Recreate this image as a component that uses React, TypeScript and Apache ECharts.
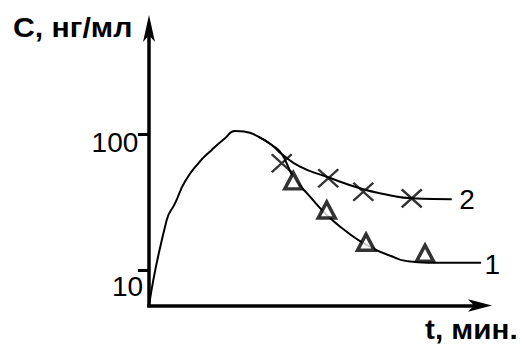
import React, { useEffect, useRef } from 'react';
import * as echarts from 'echarts';

// y-axis tick values (log scale)
const yTickValues = [10, 100];

// curve 1: rise to the peak, then decay (t, C)
const curve1: [number, number][] = [
  [0, 5.47], [6.42, 23.4], [9.43, 31.0], [13.05, 44.9], [17.88, 61.3],
  [22.74, 76.9], [27.56, 93.7], [31.18, 106.1], [34.81, 104.9], [39.63, 96.3],
  [44.49, 83.7], [48.11, 71.8], [52.32, 48.8], [58.38, 34.8], [64.43, 25.5],
  [71.68, 19.17], [78.93, 15.3], [86.77, 12.9], [95.72, 11.5], [105.5, 11.3],
  [120.6, 11.3],
];

// curve 2: branch with slower decay
const curve2: [number, number][] = [
  [39.63, 96.3], [44.49, 83.7], [48.11, 71.8], [54.75, 57.9], [64.43, 48.8],
  [76.5, 40.1], [86.77, 35.8], [95.25, 33.8], [109.75, 33.3],
];

// measured points
const triangles: [number, number][] = [
  [52.32, 45.5], [64.43, 27.7], [78.68, 16.04], [100.07, 13.28],
];
const crosses: [number, number][] = [
  [48.11, 61.3], [65.0, 47.5], [77.7, 37.8], [95.25, 33.8],
];

const yTitle = 'С, нг/мл';
const xTitle = 't, мин.';
const curveLabels = ['1', '2'];

const FONT = '"Liberation Sans", Arial, sans-serif';

export default function App() {
  const ref = useRef<HTMLDivElement>(null);

  useEffect(() => {
    if (!ref.current) return;
    const chart = echarts.init(ref.current, null, { renderer: 'svg' });
    const axisLine = (size: number[], offset: number) => ({
      show: true,
      symbol: ['none', 'arrow'],
      symbolSize: size,
      symbolOffset: [0, offset],
      lineStyle: { color: '#000', width: 3.5, cap: 'square' },
    });
    chart.setOption({
      animation: false,
      backgroundColor: '#ffffff',
      grid: { left: 149, top: 29, right: 45, bottom: 38.5, containLabel: false },
      xAxis: {
        type: 'value',
        min: 0,
        max: 120,
        axisLine: axisLine([9.5, 24], 12),
        axisTick: { show: false },
        axisLabel: { show: false },
        splitLine: { show: false },
      },
      yAxis: {
        type: 'log',
        min: 5.47,
        max: 600.6,
        axisLine: axisLine([9, 27], 14),
        axisTick: {
          show: true,
          customValues: yTickValues,
          length: 11,
          lineStyle: { color: '#000', width: 3 },
        },
        axisLabel: {
          show: true,
          customValues: yTickValues,
          margin: 5.8,
          formatter: (v: number) => (Math.round(v) === 10 ? `{b|${Math.round(v)}}` : `{a|${Math.round(v)}}`),
          rich: {
            a: { fontSize: 28, fontFamily: FONT, color: '#000', padding: [16, 4.9, 0, 0] },
            b: { fontSize: 28, fontFamily: FONT, color: '#000', padding: [34, 0, 0, 0] },
          },
        },
        splitLine: { show: false },
      },
      graphic: [
        {
          type: 'text',
          x: 13,
          y: 27,
          scaleX: 1.08,
          style: { text: yTitle, font: `bold 28px ${FONT}`, fill: '#000', verticalAlign: 'middle', align: 'left' },
        },
        {
          type: 'text',
          x: 425,
          y: 329.5,
          scaleX: 1.06,
          style: { text: xTitle, font: `bold 28px ${FONT}`, fill: '#000', verticalAlign: 'middle', align: 'left' },
        },
      ],
      series: [
        {
          type: 'line',
          data: curve1,
          smooth: 0.55,
          showSymbol: false,
          symbol: 'none',
          clip: false,
          z: 2,
          lineStyle: { color: '#000', width: 2 },
          endLabel: {
            show: true,
            formatter: curveLabels[0],
            distance: 3.5,
            offset: [0, 1.5],
            fontSize: 28,
            fontFamily: FONT,
            color: '#000',
          },
        },
        {
          type: 'line',
          data: curve2,
          smooth: 0.55,
          showSymbol: false,
          symbol: 'none',
          clip: false,
          z: 2,
          lineStyle: { color: '#000', width: 2 },
          endLabel: {
            show: true,
            formatter: curveLabels[1],
            distance: 7.5,
            fontSize: 28,
            fontFamily: FONT,
            color: '#000',
          },
        },
        {
          type: 'scatter',
          data: triangles,
          symbol: 'triangle',
          symbolSize: [17, 16],
          clip: false,
          z: 3,
          itemStyle: { color: '#fff', borderColor: '#000', borderWidth: 3.5 },
        },
        {
          type: 'scatter',
          data: crosses,
          symbol: 'path://M0,0L20,18M0,18L20,0',
          symbolSize: [20, 18],
          clip: false,
          z: 3,
          itemStyle: { color: 'none', borderColor: '#000', borderWidth: 2.4 },
        },
      ],
    });
    return () => chart.dispose();
  }, []);

  return (
    <div
      ref={ref}
      style={{ position: 'absolute', left: 0, top: 0, width: 525, height: 344, background: '#fff' }}
    />
  );
}
